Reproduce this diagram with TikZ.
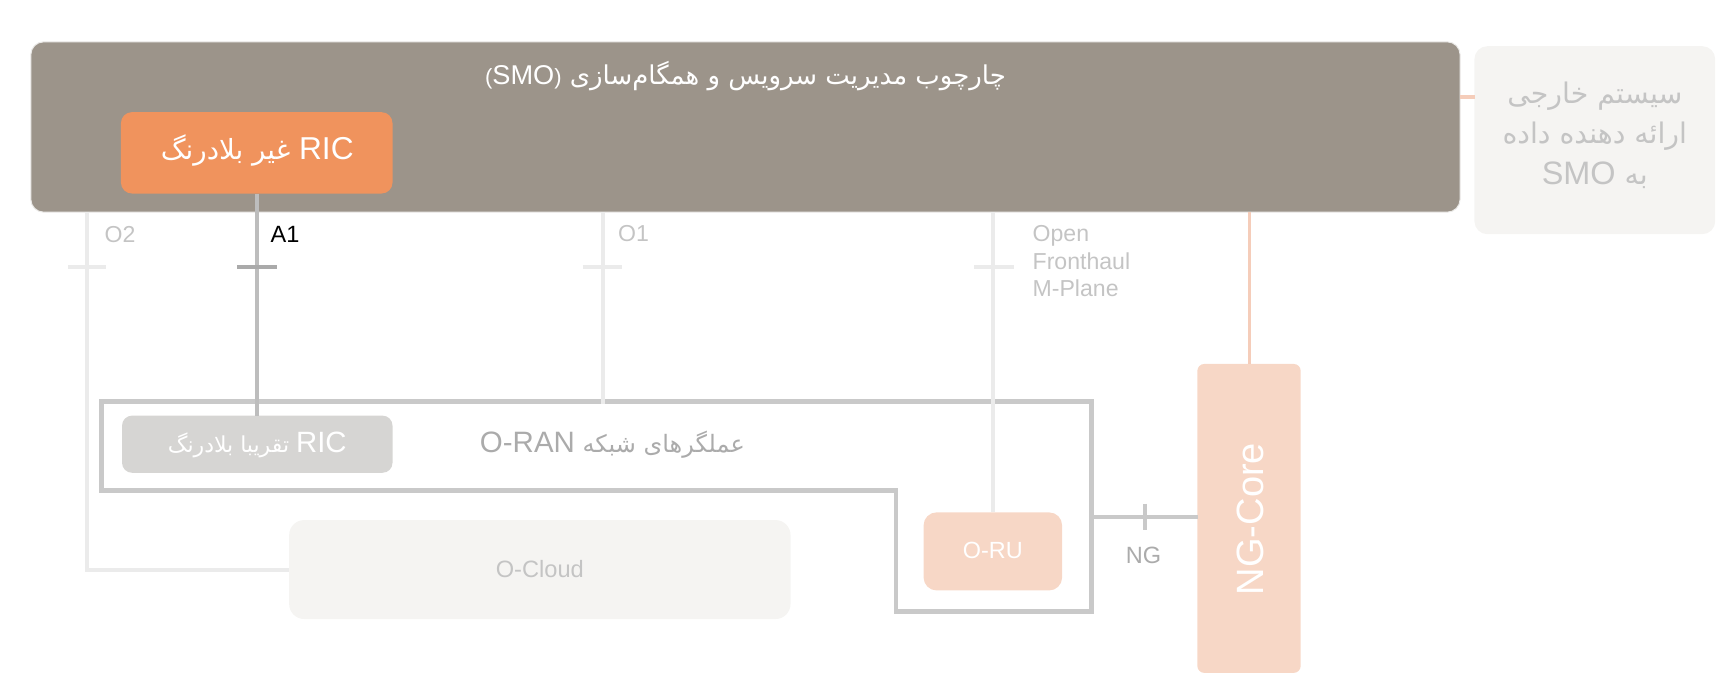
\documentclass[tikz,border=0pt]{standalone}
\usepackage{fontspec}
\setmainfont{Liberation Sans}
\newfontfamily\fa[Script=Arabic]{DejaVu Sans}
\TeXXeTstate=1
\definecolor{smofill}{HTML}{9C948A}
\definecolor{ricor}{HTML}{F0935D}
\definecolor{salmon}{HTML}{F7D7C6}
\definecolor{salmonline}{HTML}{F5CDBA}
\definecolor{nearfill}{HTML}{D6D5D3}
\definecolor{palefill}{HTML}{F5F4F2}
\definecolor{framegray}{HTML}{C9C9C9}
\definecolor{lightline}{HTML}{EBEBEB}
\definecolor{aline}{HTML}{BDBDBD}
\definecolor{lbl}{HTML}{C4C4C4}
\definecolor{dlbl}{HTML}{ABABAB}
\begin{document}
\begin{tikzpicture}[x=1pt,y=-1pt,scale=1.0995,every node/.style={transform shape},
  box/.style={rectangle,inner sep=0pt,outer sep=0pt},
  lightconn/.style={draw=lightline,line width=4pt},
  tick/.style={line width=4pt},
  ilabel/.style={anchor=west,inner sep=0pt,text=lbl,font=\fontsize{21}{25}\selectfont,align=left}]
\useasboundingbox (0,0) rectangle (1568,627.55);
% SMO
\node[box,fill=smofill,draw=white!80!smofill,line width=1pt,rounded corners=13pt,minimum width=1300pt,minimum height=155pt] (smo) at (678,115.5) {};
\node[inner sep=0pt,text=white,font=\fa\fontsize{23.6}{27}\selectfont] (smot) at (678,69) {\beginR چارچوب مدیریت سرویس و همگام‌سازی \beginL{\rmfamily\fontsize{20}{27}\selectfont(}{\rmfamily\fontsize{24.7}{27}\selectfont SMO}{\rmfamily\fontsize{20}{27}\selectfont)}\endL\endR};
% external system
\node[box,fill=palefill,rounded corners=13pt,minimum width=219pt,minimum height=171pt] (ext) at (1450.5,127.5) {};
\node[inner sep=0pt,text=lbl,align=center,font=\fa\fontsize{25.8}{37}\selectfont] (extt) at (1450.5,123) {\beginR سیستم خارجی\endR\\\beginR ارائه دهنده داده\endR\\\beginR به \beginL{\rmfamily\fontsize{29.5}{37}\selectfont SMO}\endL\endR};
% NG-Core
\node[box,fill=salmon,rounded corners=7pt,minimum width=94pt,minimum height=281pt] (ngc) at (1136,471.5) {};
\node[inner sep=0pt,text=white,rotate=90,font=\fontsize{34.6}{38}\selectfont] (ngct) at (1137,472) {NG-Core};
% lines from SMO
\draw[salmonline,line width=3.5pt] (smo.east |- 0,88) -- (ext.west |- 0,88);
\draw[salmonline,line width=3.5pt] (ngc.north |- smo.south) -- (ngc.north);
% O2
\node[box,fill=palefill,rounded corners=15pt,minimum width=456pt,minimum height=90pt] (ocloud) at (491,518) {};
\node[inner sep=0pt,text=lbl,font=\fontsize{21.5}{25}\selectfont] (ocloudt) at (491,518) {O-Cloud};
\draw[lightconn] (smo.south -| 79,0) |- (ocloud.west);
\draw[lightline,tick] (62,243) -- (96,243);
\node[ilabel] (o2l) at (95,213) {O2};
% O-RAN frame
\draw[framegray,line width=4.7pt,line join=miter] (92,365) -- (993,365) -- (993,556) -- (815,556) -- (815,446) -- (92,446) -- cycle;
\coordinate (frametop) at (548,365);
% near RT RIC
\node[box,fill=nearfill,rounded corners=10pt,minimum width=246pt,minimum height=52pt] (nrt) at (234,404) {};
\node[inner sep=0pt,text=white,font=\fa\fontsize{20}{24}\selectfont] (nrtt) at (234,405) {\beginR\beginL{\rmfamily\fontsize{26.7}{28}\selectfont RIC}\endL{} تقریبا بلادرنگ\endR};
\node[inner sep=0pt,text=dlbl,font=\fa\fontsize{21.8}{26}\selectfont] (oranl) at (557,404) {\beginR عملگرهای شبکه \beginL{\rmfamily\fontsize{26.8}{30}\selectfont O-RAN}\endL\endR};
% non-RT RIC
\node[box,fill=ricor,rounded corners=11pt,minimum width=247pt,minimum height=74pt] (ric) at (233.5,139) {};
\node[inner sep=0pt,text=white,font=\fa\fontsize{25.2}{28}\selectfont] (rict) at (234,137) {\beginR\beginL{\rmfamily\fontsize{28.8}{30}\selectfont RIC}\endL{} غیر بلادرنگ\endR};
% A1
\draw[aline,line width=4pt] (ric.south -| 234,0) -- (nrt.north -| 234,0);
\draw[aline!90!black,tick] (216,243) -- (252,243);
\node[ilabel,text=black,font=\fontsize{21.4}{25}\selectfont] (a1l) at (246,213) {A1};
% O1
\draw[lightconn] (smo.south -| frametop) -- ([yshift=-2pt]frametop);
\draw[lightline,tick] (530,243) -- (566,243);
\node[ilabel] (o1l) at (562,212) {O1};
% O-RU
\node[box,fill=salmon,rounded corners=13pt,minimum width=126pt,minimum height=71pt] (oru) at (903,501.5) {};
\node[inner sep=0pt,text=white,font=\fontsize{21.3}{25}\selectfont] (orut) at (903,501) {O-RU};
\draw[lightconn] (smo.south -| oru.north) -- (oru.north);
\draw[lightline,tick] (886,243) -- (922,243);
\node[ilabel,anchor=north west] (ofl) at (939,205) {Open\\Fronthaul\\M-Plane};
% NG
\draw[framegray,line width=4pt] (993,470) -- (993,470 -| ngc.west);
\draw[framegray,tick] (1041,458) -- (1041,482);
\node[inner sep=0pt,text=dlbl,font=\fontsize{21.4}{25}\selectfont] (ngl) at (1040,505) {NG};
\end{tikzpicture}
\end{document}
